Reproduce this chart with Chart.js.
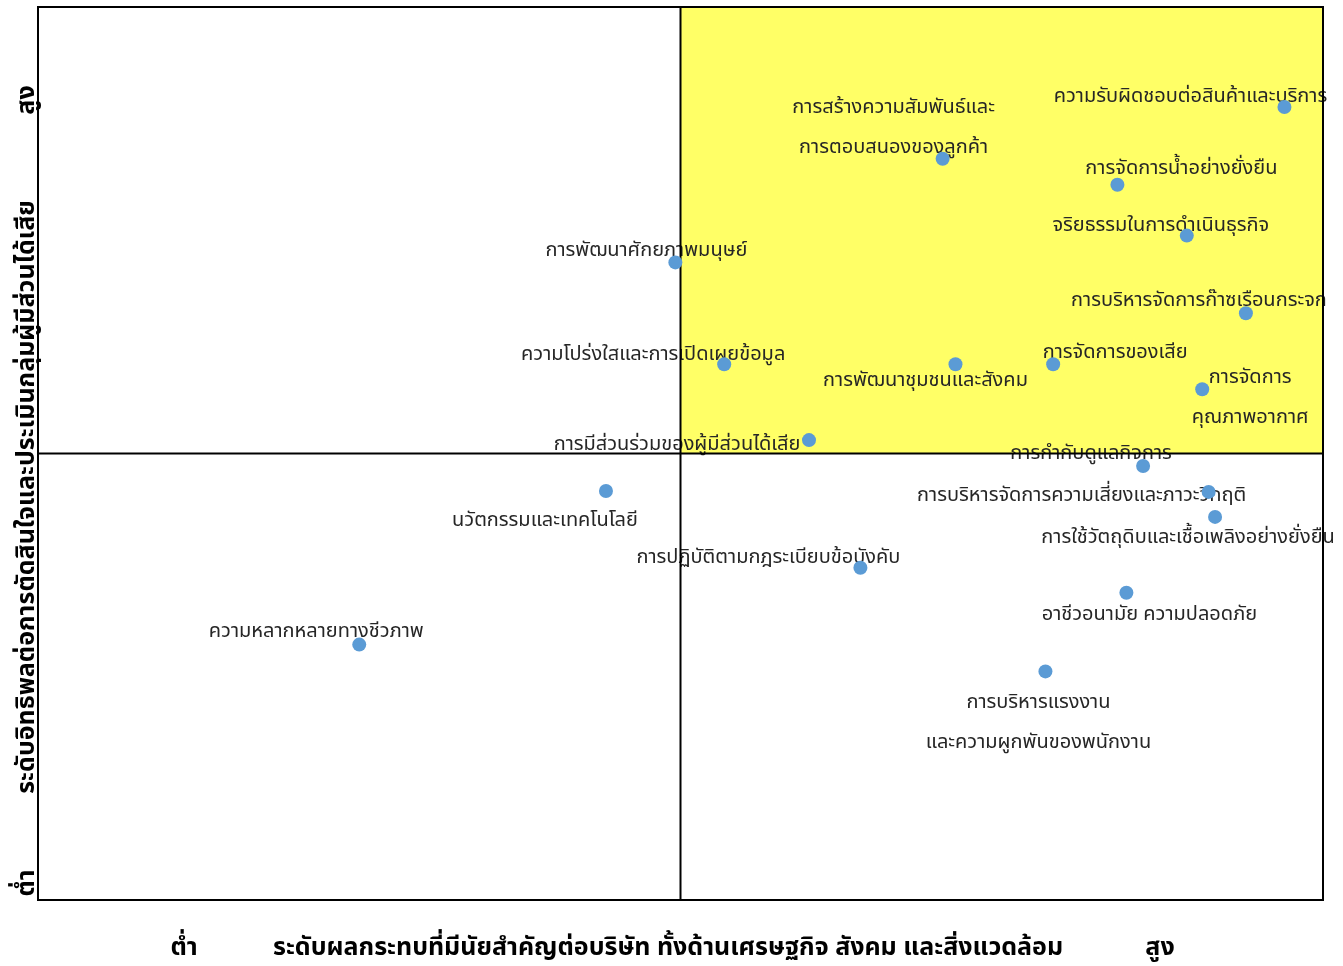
<!DOCTYPE HTML>
<html>
	<head>
		<title>Materiality Matrix</title>
		<meta charset="utf-8" />
		<script src="https://cdn.jsdelivr.net/npm/chart.js"></script>
		<style>
			html, body { margin: 0; padding: 0; background: #fff; }
			#wrap { width: 1343px; height: 966px; position: relative; }
		</style>
	</head>
	<body>
		<div id="wrap"><canvas id="matrix"></canvas></div>
		<script>
			// topics, x = impact on company, y = stakeholder influence (0-10 scale)
			const topics = [
				["การสร้างความสัมพันธ์และ", "การตอบสนองของลูกค้า"],
				["ความรับผิดชอบต่อสินค้าและบริการ"],
				["การจัดการน้ำอย่างยั่งยืน"],
				["จริยธรรมในการดำเนินธุรกิจ"],
				["การพัฒนาศักยภาพมนุษย์"],
				["การบริหารจัดการก๊าซเรือนกระจก"],
				["ความโปร่งใสและการเปิดเผยข้อมูล"],
				["การพัฒนาชุมชนและสังคม"],
				["การจัดการของเสีย"],
				["การจัดการ", "คุณภาพอากาศ"],
				["การมีส่วนร่วมของผู้มีส่วนได้เสีย"],
				["การกำกับดูแลกิจการ"],
				["การบริหารจัดการความเสี่ยงและภาวะวิกฤติ"],
				["การใช้วัตถุดิบและเชื้อเพลิงอย่างยั่งยืน"],
				["นวัตกรรมและเทคโนโลยี"],
				["การปฏิบัติตามกฎระเบียบข้อบังคับ"],
				["อาชีวอนามัย ความปลอดภัย"],
				["ความหลากหลายทางชีวภาพ"],
				["การบริหารแรงงาน", "และความผูกพันของพนักงาน"]
			];
			const impact    = [7.04, 9.70, 8.40, 8.94, 4.96, 9.40, 5.34, 7.14, 7.90, 9.06, 6.00, 8.60, 9.11, 9.16, 4.42, 6.40, 8.47, 2.50, 7.84];
			const influence = [8.30, 8.88, 8.01, 7.44, 7.14, 6.57, 6.00, 6.00, 6.00, 5.72, 5.15, 4.86, 4.57, 4.29, 4.58, 3.72, 3.44, 2.86, 2.56];

			const xTitle = "ระดับผลกระทบที่มีนัยสำคัญต่อบริษัท ทั้งด้านเศรษฐกิจ สังคม และสิ่งแวดล้อม";
			const yTitle = "ระดับอิทธิพลต่อการตัดสินใจและประเมินกลุ่มผู้มีส่วนได้เสีย";
			const lowLabel = "ต่ำ";
			const highLabel = "สูง";

			// label placement relative to the dot (px): dx, dy of first line
			const labelOffsets = [
				[-49, -50], [-94, -9], [64, -15], [-26, -9], [-29, -10],
				[-47, -11], [-71, -8], [-30, 18], [62, -10], [48, -10],
				[-132, 6], [-52, -11], [-127, 5], [-27, 22], [-61, 31],
				[-92, -9], [23, 23], [-43, -12], [-7, 33]
			];

			const FONT = '"Noto Sans Thai", "Noto Sans", sans-serif';

			const points = impact.map((v, i) => ({ x: v, y: influence[i] }));

			const matrixPlugin = {
				id: "matrix",
				beforeDatasetsDraw(chart) {
					const { ctx, chartArea: a, scales: { x, y } } = chart;
					const mx = x.getPixelForValue(5), my = y.getPixelForValue(5);
					ctx.save();
					// important quadrant
					ctx.fillStyle = "#ffff66";
					ctx.fillRect(mx, a.top, a.right - mx, my - a.top);

					// labels
					ctx.fillStyle = "#262626";
					ctx.font = "20px " + FONT;
					ctx.textAlign = "center";
					ctx.textBaseline = "middle";
					points.forEach((p, i) => {
						const px = x.getPixelForValue(p.x), py = y.getPixelForValue(p.y);
						const [dx, dy] = labelOffsets[i];
						topics[i].forEach((line, j) => {
							ctx.fillText(line, px + dx, py + dy + j * 40);
						});
					});

					// quadrant lines + frame
					ctx.strokeStyle = "#000";
					ctx.lineWidth = 2;
					ctx.beginPath();
					ctx.moveTo(mx, a.top); ctx.lineTo(mx, a.bottom);
					ctx.moveTo(a.left, my); ctx.lineTo(a.right, my);
					ctx.stroke();
					ctx.strokeRect(a.left, a.top, a.right - a.left, a.bottom - a.top);

					// axis titles
					ctx.fillStyle = "#000";
					ctx.font = "bold 25px " + FONT;
					ctx.fillText(xTitle, 668, 950);
					ctx.fillText(lowLabel, 184, 950);
					ctx.fillText(highLabel, 1160, 950);
					ctx.translate(29, 497);
					ctx.rotate(-Math.PI / 2);
					ctx.fillText(yTitle, 0, 0);
					ctx.fillText(highLabel, 397, 0);
					ctx.fillText(lowLabel, -386, 0);
					ctx.restore();
				}
			};

			new Chart(document.getElementById("matrix"), {
				type: "scatter",
				data: {
					datasets: [{
						data: points,
						backgroundColor: "#5b9bd5",
						borderWidth: 0,
						pointRadius: 7,
						pointHoverRadius: 7
					}]
				},
				options: {
					responsive: true,
					maintainAspectRatio: false,
					animation: false,
					layout: { padding: { left: 38, top: 7, right: 20, bottom: 66 } },
					plugins: { legend: { display: false }, tooltip: { enabled: false } },
					scales: {
						x: { display: false, min: 0, max: 10 },
						y: { display: false, min: 0, max: 10 }
					}
				},
				plugins: [matrixPlugin]
			});
		</script>
	</body>
</html>
